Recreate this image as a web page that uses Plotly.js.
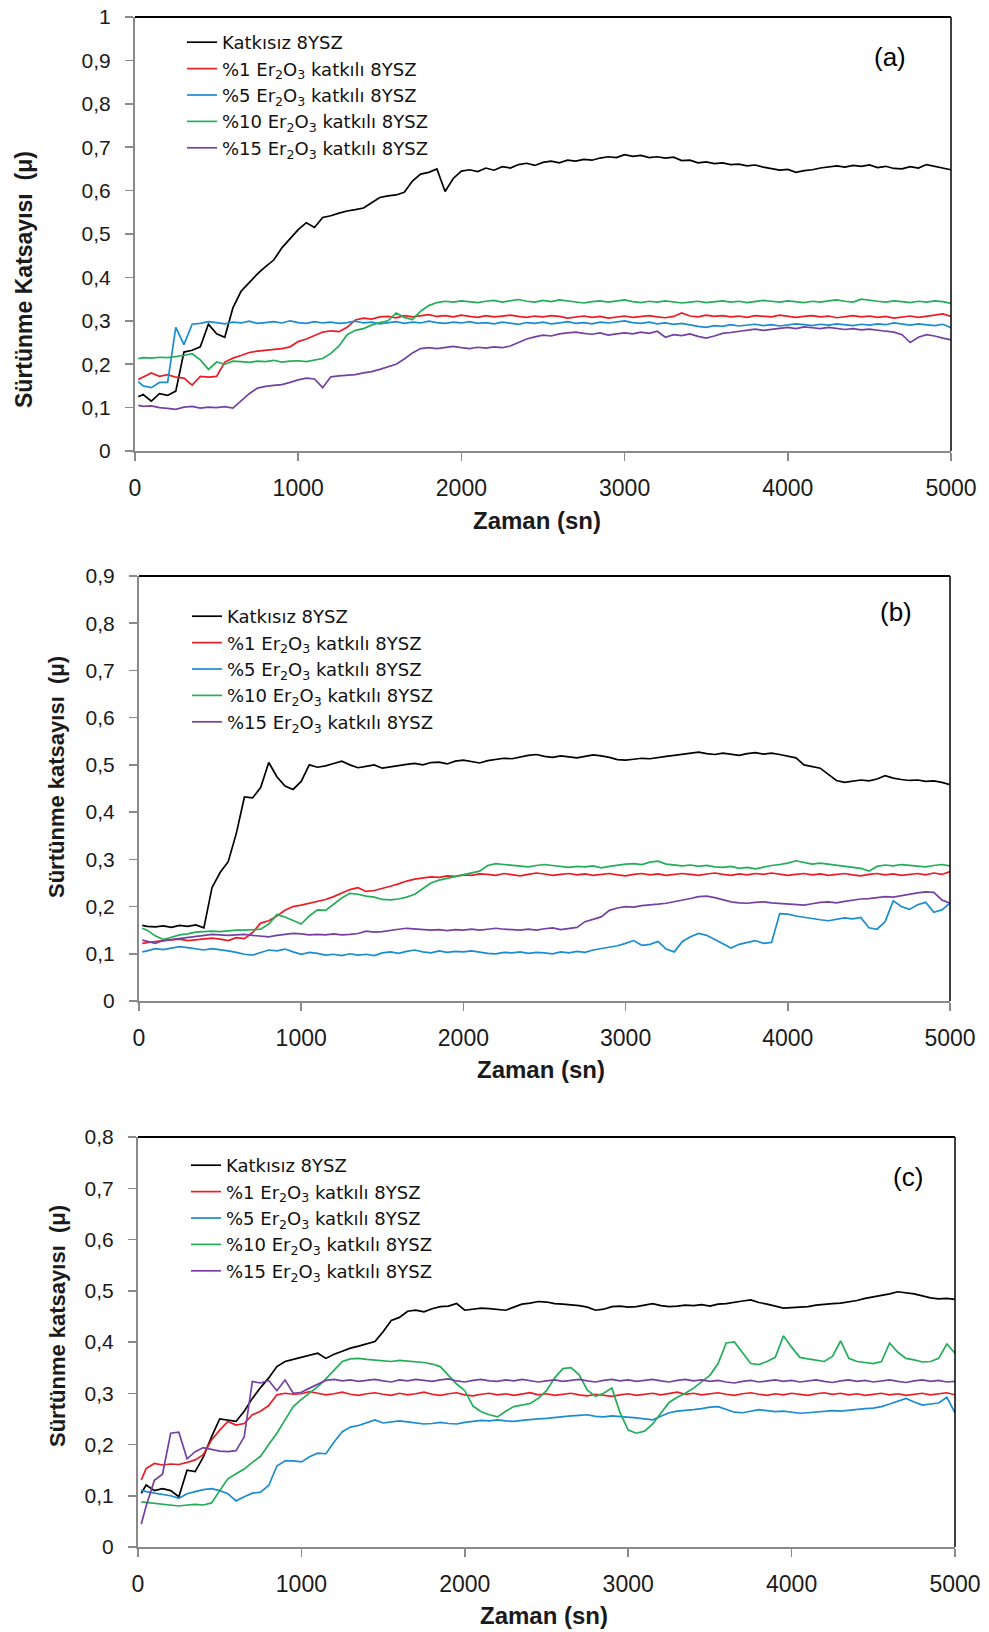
<!DOCTYPE html>
<html>
<head>
<meta charset="utf-8">
<script src="https://cdn.plot.ly/plotly-3.0.1.min.js"></script>
<style>
  html, body { margin: 0; padding: 0; background: #ffffff; }
  #chart { width: 989px; height: 1632px; }
</style>
</head>
<body>
<div id="chart"></div>
<script>
// ---------- DATA ----------
const seriesNames = [
  "Katkısız 8YSZ",
  "%1 Er<sub>2</sub>O<sub>3</sub> katkılı 8YSZ",
  "%5 Er<sub>2</sub>O<sub>3</sub> katkılı 8YSZ",
  "%10 Er<sub>2</sub>O<sub>3</sub> katkılı 8YSZ",
  "%15 Er<sub>2</sub>O<sub>3</sub> katkılı 8YSZ"
];
const panelLabels = ["(a)", "(b)", "(c)"];
const xTitle = "Zaman (sn)";
const yTitles = ["Sürtünme Katsayısı  (μ)", "Sürtünme katsayısı  (μ)", "Sürtünme katsayısı  (μ)"];
const xTickVals = [0, 1000, 2000, 3000, 4000, 5000];
const yMax = [1, 0.9, 0.8];

// time (s)
const T = [
  20,50,100,150,200,250,300,350,400,450,
  500,550,600,650,700,750,800,850,900,950,
  1000,1050,1100,1150,1200,1250,1300,1350,1400,1450,
  1500,1550,1600,1650,1700,1750,1800,1850,1900,1950,
  2000,2050,2100,2150,2200,2250,2300,2350,2400,2450,
  2500,2550,2600,2650,2700,2750,2800,2850,2900,2950,
  3000,3050,3100,3150,3200,3250,3300,3350,3400,3450,
  3500,3550,3600,3650,3700,3750,3800,3850,3900,3950,
  4000,4050,4100,4150,4200,4250,4300,4350,4400,4450,
  4500,4550,4600,4650,4700,4750,4800,4850,4900,4950,
  5000
];

// ---- panel (a)
const aK = [
  .125,.130,.115,.132,.128,.138,.228,.232,.240,.292,
  .270,.262,.330,.368,.388,.408,.425,.440,.468,.488,
  .510,.526,.515,.538,.542,.548,.553,.556,.560,.572,
  .584,.588,.590,.596,.622,.638,.642,.650,.598,.628,
  .645,.648,.644,.652,.647,.655,.652,.660,.663,.658,
  .665,.668,.664,.670,.668,.672,.670,.675,.678,.676,
  .683,.679,.681,.676,.678,.675,.677,.669,.670,.664,
  .666,.662,.664,.660,.661,.657,.659,.654,.650,.647,
  .649,.642,.646,.648,.652,.655,.657,.654,.658,.656,
  .659,.653,.656,.651,.650,.655,.652,.660,.656,.652,
  .648
];
const aR = [
  .165,.170,.180,.172,.176,.170,.168,.152,.172,.170,
  .172,.205,.214,.220,.227,.230,.232,.234,.236,.240,
  .252,.258,.266,.274,.277,.275,.285,.302,.306,.304,
  .309,.310,.307,.312,.309,.311,.314,.310,.312,.309,
  .313,.310,.308,.312,.309,.311,.313,.310,.308,.311,
  .309,.312,.310,.306,.309,.311,.308,.310,.306,.309,
  .311,.308,.310,.312,.309,.307,.310,.318,.311,.309,
  .313,.310,.312,.309,.311,.308,.312,.310,.309,.313,
  .311,.308,.310,.312,.309,.311,.307,.310,.312,.309,
  .311,.308,.310,.306,.309,.311,.308,.310,.313,.316,
  .310
];
const aB = [
  .160,.150,.146,.158,.158,.285,.245,.292,.294,.298,
  .296,.293,.297,.295,.299,.294,.296,.298,.295,.300,
  .296,.294,.298,.295,.297,.294,.296,.299,.295,.297,
  .293,.296,.298,.294,.297,.295,.299,.296,.294,.297,
  .295,.298,.294,.296,.293,.297,.295,.292,.296,.294,
  .297,.293,.295,.298,.294,.296,.293,.297,.295,.298,
  .300,.296,.294,.297,.293,.295,.292,.294,.290,.287,
  .285,.289,.287,.291,.288,.290,.292,.289,.291,.288,
  .290,.293,.291,.289,.292,.290,.293,.291,.289,.292,
  .290,.293,.291,.295,.292,.290,.293,.291,.289,.292,
  .284
];
const aG = [
  .213,.215,.214,.216,.215,.217,.220,.224,.210,.188,
  .205,.200,.207,.206,.204,.207,.206,.209,.205,.207,
  .208,.206,.210,.213,.225,.242,.268,.278,.282,.290,
  .296,.300,.318,.308,.303,.322,.335,.342,.345,.343,
  .346,.344,.342,.345,.347,.343,.346,.349,.345,.343,
  .347,.344,.348,.346,.343,.341,.344,.346,.343,.345,
  .348,.344,.342,.345,.343,.346,.344,.341,.343,.345,
  .342,.344,.346,.343,.345,.342,.344,.347,.345,.343,
  .346,.344,.342,.345,.343,.346,.348,.345,.343,.350,
  .347,.345,.343,.346,.344,.342,.345,.343,.346,.344,
  .340
];
const aP = [
  .105,.103,.104,.100,.098,.096,.101,.103,.099,.101,
  .100,.102,.099,.115,.132,.145,.149,.151,.153,.158,
  .164,.168,.166,.146,.171,.173,.175,.176,.180,.183,
  .188,.194,.200,.212,.226,.236,.238,.236,.239,.241,
  .238,.236,.239,.237,.240,.238,.242,.250,.258,.263,
  .267,.265,.270,.272,.274,.271,.269,.272,.267,.270,
  .272,.270,.274,.271,.276,.262,.268,.266,.270,.264,
  .260,.265,.271,.273,.276,.279,.281,.278,.280,.283,
  .285,.282,.286,.284,.282,.285,.283,.280,.282,.279,
  .281,.278,.276,.274,.268,.250,.262,.268,.265,.260,
  .256
];

// ---- panel (b)
const bK = [
  .160,.158,.157,.159,.156,.160,.158,.161,.155,.240,
  .272,.295,.355,.432,.430,.452,.505,.475,.455,.448,
  .465,.500,.495,.498,.503,.508,.500,.494,.497,.500,
  .493,.496,.499,.501,.503,.500,.505,.506,.502,.508,
  .510,.507,.504,.509,.511,.514,.513,.517,.520,.522,
  .518,.516,.519,.517,.515,.518,.521,.519,.516,.511,
  .510,.512,.514,.513,.516,.518,.520,.522,.525,.527,
  .524,.522,.525,.523,.520,.524,.526,.523,.525,.522,
  .518,.515,.500,.497,.493,.480,.467,.463,.465,.468,
  .466,.470,.477,.472,.469,.467,.468,.465,.466,.463,
  .458
];
const bR = [
  .122,.124,.126,.128,.130,.131,.128,.130,.132,.133,
  .131,.128,.134,.132,.145,.165,.170,.180,.192,.200,
  .203,.207,.210,.215,.221,.229,.236,.240,.232,.234,
  .238,.243,.248,.254,.258,.261,.263,.262,.265,.264,
  .267,.266,.269,.268,.266,.270,.268,.265,.268,.271,
  .269,.266,.268,.270,.267,.269,.266,.268,.270,.267,
  .265,.268,.270,.267,.269,.266,.268,.270,.268,.266,
  .269,.271,.268,.266,.269,.267,.270,.268,.271,.269,
  .266,.268,.270,.267,.269,.266,.268,.270,.267,.265,
  .268,.270,.267,.269,.266,.268,.270,.267,.271,.268,
  .274
];
const bB = [
  .104,.106,.111,.109,.112,.115,.113,.110,.108,.111,
  .109,.106,.103,.099,.097,.103,.108,.106,.110,.104,
  .099,.103,.101,.097,.099,.096,.100,.097,.099,.096,
  .102,.104,.101,.105,.108,.104,.102,.106,.103,.105,
  .104,.106,.103,.101,.100,.103,.102,.104,.101,.103,
  .102,.100,.104,.102,.105,.103,.108,.111,.113,.117,
  .122,.128,.118,.120,.126,.110,.104,.126,.136,.143,
  .139,.130,.120,.112,.120,.124,.128,.122,.124,.185,
  .184,.180,.177,.175,.172,.170,.173,.176,.174,.177,
  .155,.152,.168,.212,.200,.194,.204,.209,.188,.193,
  .207
];
const bG = [
  .154,.150,.138,.130,.135,.140,.142,.146,.147,.148,
  .147,.149,.150,.150,.151,.152,.163,.183,.178,.170,
  .163,.180,.193,.192,.205,.218,.228,.226,.222,.220,
  .215,.214,.216,.220,.226,.238,.250,.256,.260,.264,
  .268,.271,.275,.287,.291,.289,.287,.285,.284,.287,
  .289,.287,.285,.283,.285,.284,.286,.282,.285,.288,
  .290,.291,.289,.294,.296,.290,.288,.286,.288,.285,
  .287,.284,.283,.285,.281,.283,.280,.284,.287,.289,
  .292,.297,.294,.290,.292,.290,.288,.285,.283,.281,
  .275,.285,.288,.286,.289,.287,.285,.284,.287,.289,
  .286
];
const bP = [
  .129,.126,.122,.128,.130,.133,.135,.137,.139,.141,
  .140,.139,.140,.141,.139,.138,.136,.139,.141,.143,
  .142,.140,.141,.140,.142,.140,.141,.143,.148,.146,
  .147,.150,.152,.154,.153,.151,.150,.151,.149,.151,
  .150,.152,.150,.152,.154,.152,.151,.150,.152,.150,
  .153,.155,.151,.154,.156,.168,.173,.178,.192,.197,
  .200,.199,.202,.203,.205,.207,.210,.214,.217,.221,
  .222,.219,.215,.210,.208,.207,.209,.210,.208,.207,
  .206,.205,.203,.206,.209,.210,.208,.211,.214,.216,
  .217,.219,.221,.220,.223,.227,.229,.231,.230,.214,
  .207
];

// ---- panel (c)
const cK = [
  .105,.121,.110,.114,.110,.098,.150,.147,.176,.215,
  .250,.248,.245,.265,.290,.311,.330,.352,.362,.366,
  .370,.374,.378,.368,.376,.382,.388,.392,.397,.401,
  .420,.442,.448,.460,.462,.459,.465,.469,.470,.475,
  .462,.464,.466,.465,.463,.462,.468,.474,.476,.479,
  .478,.475,.474,.473,.471,.468,.462,.464,.469,.470,
  .468,.469,.472,.475,.471,.469,.470,.472,.471,.473,
  .470,.474,.475,.478,.480,.482,.477,.474,.470,.466,
  .467,.468,.469,.472,.474,.475,.476,.478,.481,.485,
  .488,.490,.494,.498,.496,.494,.490,.486,.484,.485,
  .483
];
const cR = [
  .131,.153,.163,.160,.162,.161,.165,.170,.180,.209,
  .228,.245,.238,.241,.258,.265,.276,.297,.300,.298,
  .299,.303,.300,.297,.299,.302,.298,.296,.299,.301,
  .298,.296,.300,.297,.299,.302,.298,.296,.299,.301,
  .297,.295,.298,.300,.297,.299,.296,.298,.301,.297,
  .299,.296,.298,.300,.297,.295,.298,.296,.294,.297,
  .299,.296,.298,.300,.297,.299,.302,.298,.300,.297,
  .299,.301,.298,.296,.299,.301,.298,.296,.299,.297,
  .300,.298,.296,.299,.301,.298,.300,.297,.299,.296,
  .298,.300,.297,.299,.296,.298,.300,.297,.299,.301,
  .297
];
const cB = [
  .111,.108,.105,.103,.100,.095,.104,.108,.112,.114,
  .110,.104,.090,.098,.105,.107,.120,.158,.168,.168,
  .166,.176,.183,.182,.205,.225,.234,.237,.243,.248,
  .242,.244,.246,.244,.242,.240,.241,.243,.241,.240,
  .243,.245,.247,.246,.248,.246,.245,.247,.249,.250,
  .251,.253,.254,.256,.257,.258,.255,.254,.256,.255,
  .254,.252,.250,.248,.255,.262,.265,.266,.268,.270,
  .273,.274,.268,.263,.262,.265,.268,.266,.264,.265,
  .263,.261,.262,.263,.264,.266,.265,.267,.268,.270,
  .271,.274,.279,.285,.290,.283,.277,.279,.281,.292,
  .262
];
const cG = [
  .088,.087,.085,.083,.081,.080,.082,.083,.082,.086,
  .110,.133,.143,.152,.165,.177,.200,.222,.248,.274,
  .288,.300,.313,.328,.345,.362,.367,.368,.366,.365,
  .363,.362,.364,.363,.362,.360,.357,.352,.335,.318,
  .305,.275,.264,.258,.254,.265,.274,.277,.280,.290,
  .305,.330,.348,.350,.336,.306,.294,.300,.310,.262,
  .228,.222,.226,.240,.262,.282,.292,.300,.310,.322,
  .335,.358,.398,.400,.378,.358,.356,.362,.370,.412,
  .390,.370,.367,.364,.362,.372,.402,.368,.362,.360,
  .358,.362,.398,.380,.368,.365,.361,.362,.368,.396,
  .378
];
const cP = [
  .045,.080,.130,.142,.222,.224,.172,.186,.194,.190,
  .187,.186,.188,.215,.323,.320,.325,.305,.326,.300,
  .302,.310,.318,.325,.327,.324,.326,.323,.325,.327,
  .324,.322,.326,.324,.327,.325,.323,.326,.328,.324,
  .322,.325,.327,.324,.323,.326,.324,.327,.325,.322,
  .324,.326,.323,.325,.327,.324,.322,.325,.327,.324,
  .326,.323,.325,.327,.324,.322,.325,.327,.324,.326,
  .323,.325,.322,.320,.323,.325,.322,.324,.326,.323,
  .325,.322,.324,.326,.323,.321,.324,.326,.323,.325,
  .322,.324,.326,.323,.321,.324,.326,.323,.325,.322,
  .323
];

const panelSeries = [
  [aK, aR, aB, aG, aP],
  [bK, bR, bB, bG, bP],
  [cK, cR, cB, cG, cP]
];

// ---------- STYLE / LAYOUT ----------
const W = 989, H = 1632;
const px = v => v / W;
const py = v => 1 - v / H;
const colors = ["#000000", "#ec1c24", "#1b8cd2", "#22ad57", "#7441a3"];

const sansFont = "Liberation Sans, Arial, Helvetica, sans-serif";
const wideFont = "DejaVu Sans, Verdana, sans-serif";

// plot area boxes in pixels [left, right, top, bottom]
const boxes = [
  [135, 951, 17, 451],
  [139, 950, 576, 1001],
  [138, 955, 1137, 1547]
];
const legendPos = [[182, 24], [187, 598], [186, 1147]];
const labelPos = [[890, 57], [896, 612], [908, 1177]];
const yTitlePos = [[24, 280], [56, 777], [57, 1326]];
const yTitleSize = [23, 22, 22];
const xTitlePos = [[537, 520], [541, 1069], [544, 1615]];

const traces = [];
const layout = {
  width: W, height: H,
  margin: {l: 0, r: 0, t: 0, b: 0, pad: 0},
  paper_bgcolor: "#ffffff",
  plot_bgcolor: "#ffffff",
  separators: ", ",
  showlegend: true,
  hovermode: false,
  shapes: [],
  annotations: []
};

for (let p = 0; p < 3; p++) {
  const sfx = p === 0 ? "" : String(p + 1);
  const xa = "x" + sfx, ya = "y" + sfx;
  const lg = "legend" + sfx;
  const [l, r, t, b] = boxes[p];

  panelSeries[p].forEach((vals, i) => {
    traces.push({
      type: "scatter", mode: "lines",
      x: T, y: vals,
      name: seriesNames[i],
      xaxis: xa, yaxis: ya,
      legend: lg,
      line: {color: colors[i], width: 1.7},
      showlegend: true
    });
  });

  layout["xaxis" + sfx] = {
    domain: [px(l), px(r)],
    anchor: ya,
    range: [0, 5000],
    tickvals: xTickVals,
    ticks: "outside", ticklen: 8, tickwidth: 1.5, tickcolor: "#8a8a8a",
    showline: true, linecolor: "#8a8a8a", linewidth: 2,
    showgrid: false, zeroline: false,
    ticklabelstandoff: 7,
    tickfont: {family: sansFont, size: 23, color: "#1a1a1a"},
    fixedrange: true
  };
  layout["yaxis" + sfx] = {
    domain: [py(b), py(t)],
    anchor: xa,
    range: [0, yMax[p]],
    dtick: 0.1, tick0: 0,
    ticks: "outside", ticklen: 8, tickwidth: 1.5, tickcolor: "#8a8a8a",
    showline: true, linecolor: "#8a8a8a", linewidth: 2,
    showgrid: false, zeroline: false,
    ticklabelstandoff: 10,
    tickfont: {family: sansFont, size: 21, color: "#1a1a1a"},
    fixedrange: true
  };
  layout[lg] = {
    x: px(legendPos[p][0]), y: py(legendPos[p][1]),
    xanchor: "left", yanchor: "top",
    bgcolor: "rgba(255,255,255,0)", borderwidth: 0,
    font: {family: wideFont, size: 18, color: "#111111"},
    itemwidth: 30, tracegroupgap: 0, traceorder: "normal",
    itemclick: false, itemdoubleclick: false
  };

  // black frame on top and right of the plot area
  layout.shapes.push({type: "line", xref: xa + " domain", yref: ya + " domain",
    x0: 0, x1: 1, y0: 1, y1: 1, line: {color: "#000000", width: 2}});
  layout.shapes.push({type: "line", xref: xa + " domain", yref: ya + " domain",
    x0: 1, x1: 1, y0: 0, y1: 1, line: {color: "#000000", width: 1.5}});

  layout.annotations.push({
    xref: "paper", yref: "paper",
    x: px(labelPos[p][0]), y: py(labelPos[p][1]),
    xanchor: "center", yanchor: "middle", showarrow: false,
    text: panelLabels[p],
    font: {family: sansFont, size: 26, color: "#000000"}
  });
  layout.annotations.push({
    xref: "paper", yref: "paper",
    x: px(yTitlePos[p][0]), y: py(yTitlePos[p][1]),
    xanchor: "center", yanchor: "middle", showarrow: false,
    textangle: -90,
    text: "<b>" + yTitles[p] + "</b>",
    font: {family: sansFont, size: yTitleSize[p], color: "#1a1a1a"}
  });
  layout.annotations.push({
    xref: "paper", yref: "paper",
    x: px(xTitlePos[p][0]), y: py(xTitlePos[p][1]),
    xanchor: "center", yanchor: "middle", showarrow: false,
    text: "<b>" + xTitle + "</b>",
    font: {family: sansFont, size: 24, color: "#1a1a1a"}
  });
}

Plotly.newPlot("chart", traces, layout, {staticPlot: true, displayModeBar: false});
</script>
</body>
</html>
